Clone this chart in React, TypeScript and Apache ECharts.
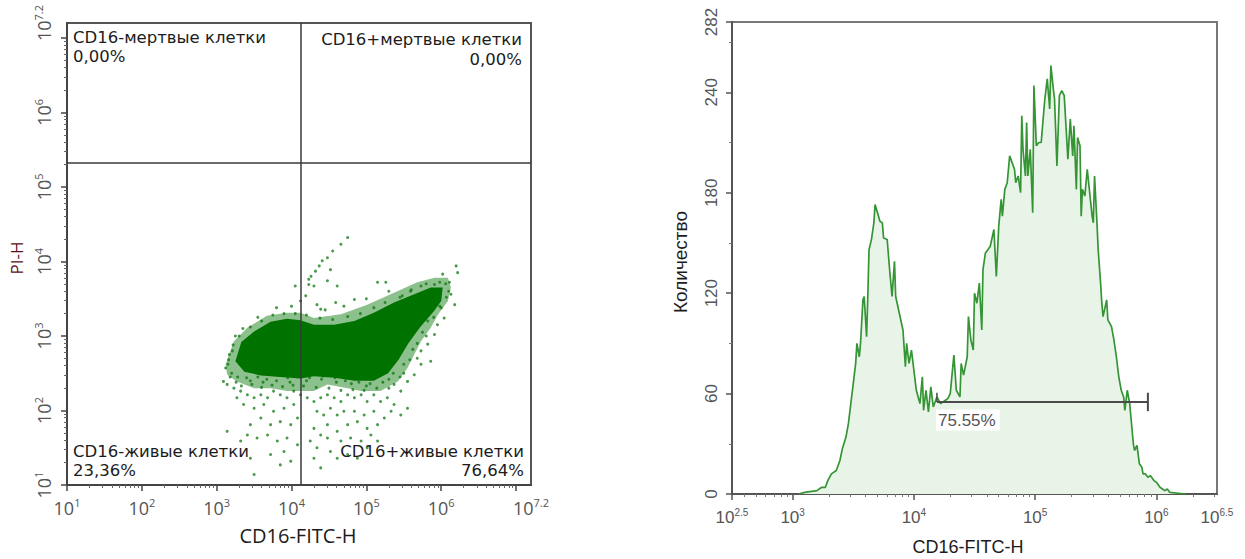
import React, { useEffect, useRef } from "react";
import * as echarts from "echarts";

// ---------- Dot plot (values in log10 units) ----------
const dotLabelTicks = [1, 2, 3, 4, 5, 6, 7.2];
const dotMajorTicks = [1, 2, 3, 4, 5, 6, 7];
const gateX = [4.13];
const gateY = [5.33];
const quadrantNames = ["CD16-мертвые клетки", "CD16+мертвые клетки", "CD16-живые клетки", "CD16+живые клетки"];
const quadrantPercents = ["0,00%", "0,00%", "23,36%", "76,64%"];

const coreOutline = [
  [3.25, 2.66], [3.33, 2.92], [3.5, 3.06], [3.72, 3.19], [3.94, 3.23], [4.12, 3.21], [4.3, 3.15], [4.57, 3.15],
  [4.84, 3.2], [5.1, 3.31], [5.37, 3.45], [5.64, 3.56], [5.86, 3.65], [6.02, 3.65], [6.0, 3.47], [5.9, 3.33],
  [5.72, 3.12], [5.56, 2.9], [5.43, 2.68], [5.29, 2.5], [5.1, 2.4], [4.84, 2.4], [4.57, 2.44], [4.3, 2.46],
  [4.12, 2.43], [3.85, 2.45], [3.59, 2.47], [3.37, 2.52],
];
const haloOutline = [
  [3.12, 2.62], [3.23, 2.93], [3.41, 3.11], [3.67, 3.27], [3.94, 3.31], [4.12, 3.31], [4.3, 3.24], [4.66, 3.29],
  [5.01, 3.42], [5.37, 3.58], [5.68, 3.72], [5.91, 3.78], [6.09, 3.78], [6.13, 3.65], [6.09, 3.47], [5.96, 3.29],
  [5.86, 3.11], [5.73, 2.93], [5.64, 2.75], [5.55, 2.57], [5.42, 2.39], [5.19, 2.26], [4.93, 2.26], [4.75, 2.3],
  [4.48, 2.35], [4.3, 2.26], [4.12, 2.26], [3.94, 2.26], [3.72, 2.3], [3.5, 2.3], [3.27, 2.39], [3.14, 2.48],
];
const sparseDots = [
  [4.75, 4.32], [4.66, 4.23], [4.55, 4.14], [4.48, 4.05], [4.41, 4.01], [4.37, 3.94], [4.32, 3.87], [4.26, 3.8],
  [4.23, 3.76], [4.52, 3.89], [4.61, 3.67], [4.48, 3.74], [4.3, 3.67], [4.23, 3.69], [4.05, 3.67], [5.15, 3.72],
  [5.26, 3.72], [4.84, 3.49], [4.59, 3.45], [4.34, 3.42], [4.19, 3.54], [4.12, 3.47], [4.39, 3.36],
  [6.2, 3.94], [6.22, 3.85], [6.11, 3.72], [6.02, 3.83], [5.91, 3.69], [5.73, 3.67], [5.59, 3.6], [5.48, 3.54],
  [6.13, 3.56], [6.18, 3.42], [6.04, 3.24], [5.95, 3.15], [5.91, 3.02], [5.82, 2.89], [5.73, 2.8], [5.86, 2.66],
  [5.73, 2.62], [5.64, 2.48], [5.55, 2.39], [5.46, 2.26], [5.37, 2.35],
  [5.28, 2.17], [5.37, 2.08], [5.55, 2.03], [5.46, 1.94], [5.33, 1.99], [5.19, 2.12], [5.1, 2.21], [5.01, 2.12],
  [4.93, 2.21], [4.84, 2.17], [4.75, 2.21], [4.66, 2.12], [4.57, 2.17], [4.48, 2.21], [4.39, 2.17], [4.3, 2.12],
  [4.21, 2.17], [4.52, 2.03], [4.43, 1.94], [4.34, 1.99], [4.61, 1.94], [4.7, 1.99], [4.84, 1.99], [4.97, 1.94],
  [5.1, 1.99], [5.24, 1.9], [5.15, 1.81], [5.01, 1.76], [4.88, 1.85], [4.75, 1.81], [4.61, 1.72], [4.48, 1.81],
  [4.39, 1.67], [4.3, 1.76], [4.25, 1.59], [4.34, 1.5], [4.3, 1.36], [4.39, 1.23], [4.48, 1.63], [4.66, 1.59],
  [4.79, 1.63], [4.93, 1.59], [5.06, 1.67], [5.01, 1.5], [4.88, 1.36], [4.75, 1.41], [4.61, 1.36], [4.52, 1.45],
  [5.15, 1.59],
  [4.12, 2.21], [4.03, 2.26], [3.94, 2.17], [3.85, 2.21], [3.76, 2.26], [3.68, 2.17], [3.59, 2.21], [3.5, 2.17],
  [3.41, 2.21], [3.32, 2.26], [3.23, 2.3], [3.14, 2.35], [3.12, 2.57], [3.16, 2.68], [3.21, 2.8], [3.09, 2.39],
  [3.27, 2.17], [3.36, 2.08], [3.5, 2.03], [3.63, 2.08], [3.76, 1.99], [3.9, 2.03], [4.03, 2.08], [4.08, 1.9],
  [3.99, 1.81], [3.85, 1.85], [3.72, 1.81], [3.59, 1.9], [3.45, 1.81], [3.41, 1.67], [3.54, 1.63], [3.68, 1.67],
  [3.81, 1.59], [3.94, 1.63], [4.08, 1.54], [3.32, 1.59], [3.45, 1.36], [3.5, 1.14], [3.85, 1.27], [3.99, 1.32],
  [3.9, 1.45], [3.72, 1.41], [3.14, 1.72],
  [3.2, 2.5], [3.28, 2.45], [3.45, 2.4], [3.62, 2.38], [3.8, 2.4], [3.98, 2.38], [4.2, 2.4], [4.4, 2.42],
  [4.6, 2.38], [4.8, 2.36], [5.0, 2.33], [5.3, 2.3], [5.5, 2.5], [5.68, 2.7], [5.8, 3.0], [5.98, 3.4],
  [6.1, 3.6], [5.3, 3.6], [5.0, 3.5], [4.7, 3.4], [4.45, 3.35], [4.0, 3.4], [3.8, 3.38], [3.55, 3.25],
  [3.35, 3.1], [3.25, 3.0],
  [3.18, 2.45], [3.26, 2.38], [3.33, 2.33], [3.4, 2.44], [3.47, 2.35], [3.55, 2.45], [3.6, 2.31], [3.67, 2.42],
  [3.74, 2.34], [3.82, 2.47], [3.88, 2.32], [3.95, 2.44], [4.02, 2.34], [4.08, 2.45], [4.16, 2.33], [4.24, 2.44],
  [4.33, 2.31], [4.42, 2.46], [4.5, 2.3], [4.58, 2.44], [4.66, 2.27], [4.72, 2.4], [4.82, 2.28], [4.9, 2.38],
  [4.97, 2.27], [5.05, 2.36], [5.14, 2.3], [5.22, 2.38], [5.3, 2.42], [5.36, 2.5], [5.45, 2.45], [5.5, 2.62],
  [5.58, 2.68], [5.62, 2.82], [5.68, 2.9], [5.75, 3.05], [5.82, 3.2], [5.9, 3.25], [6.0, 3.38], [6.07, 3.52],
  [6.06, 3.7], [5.98, 3.72], [5.8, 3.7], [5.6, 3.62], [5.45, 3.52], [5.25, 3.45], [5.1, 3.38], [4.92, 3.3],
  [4.75, 3.26], [4.55, 3.22], [4.38, 3.24], [4.2, 3.28], [4.05, 3.3], [3.9, 3.3], [3.75, 3.28], [3.6, 3.2],
  [3.45, 3.12], [3.3, 3.0], [3.22, 2.88], [3.17, 2.75], [3.15, 2.62],
];

// ---------- Histogram ----------
const histLabelTicks = [2.5, 3, 4, 5, 6, 6.5];
const histMajorTicks = [2.5, 3, 4, 5, 6];
const histCountTicks = [0, 60, 120, 180, 240, 282];
const histCountMinor = [30, 90, 150, 210, 270];
const histogramBins = [
  [3.05, 0], [3.1, 1], [3.2, 2], [3.24, 4], [3.27, 4], [3.29, 8], [3.32, 12], [3.36, 14], [3.39, 20], [3.41, 27],
  [3.44, 34], [3.46, 42], [3.48, 54], [3.5, 66], [3.52, 78], [3.53, 90], [3.55, 82], [3.56, 90], [3.58, 116],
  [3.59, 118], [3.61, 94], [3.62, 118], [3.63, 146], [3.65, 152], [3.67, 162], [3.68, 173], [3.7, 168], [3.72, 163],
  [3.74, 162], [3.75, 153], [3.78, 152], [3.8, 134], [3.82, 118], [3.84, 139], [3.85, 118], [3.88, 108], [3.91, 98],
  [3.93, 76], [3.94, 90], [3.96, 78], [3.98, 86], [4.0, 74], [4.02, 62], [4.05, 54], [4.07, 70], [4.08, 50],
  [4.1, 62], [4.12, 49], [4.14, 64], [4.16, 52], [4.19, 58], [4.22, 54], [4.26, 56], [4.28, 57], [4.3, 60],
  [4.33, 83], [4.35, 62], [4.38, 58], [4.39, 78], [4.41, 71], [4.44, 82], [4.45, 106], [4.47, 92], [4.49, 86],
  [4.5, 120], [4.52, 114], [4.54, 126], [4.56, 98], [4.57, 134], [4.59, 144], [4.61, 146], [4.63, 148], [4.66, 158],
  [4.68, 130], [4.7, 160], [4.72, 176], [4.73, 166], [4.75, 182], [4.77, 186], [4.79, 202], [4.81, 198], [4.83, 194],
  [4.84, 186], [4.86, 190], [4.88, 180], [4.89, 226], [4.9, 206], [4.92, 190], [4.93, 222], [4.94, 190], [4.96, 206],
  [4.98, 168], [4.99, 244], [5.01, 208], [5.03, 210], [5.05, 210], [5.08, 236], [5.1, 248], [5.12, 230], [5.13, 256],
  [5.15, 242], [5.16, 236], [5.18, 196], [5.2, 238], [5.22, 241], [5.24, 238], [5.26, 213], [5.27, 200], [5.29, 224],
  [5.31, 202], [5.32, 220], [5.34, 182], [5.35, 213], [5.37, 208], [5.38, 166], [5.39, 182], [5.41, 178], [5.43, 194],
  [5.45, 180], [5.47, 166], [5.48, 162], [5.49, 190], [5.51, 162], [5.52, 146], [5.54, 126], [5.55, 114], [5.56, 106],
  [5.59, 116], [5.6, 104], [5.63, 100], [5.65, 92], [5.67, 82], [5.69, 70], [5.71, 62], [5.73, 58], [5.74, 50],
  [5.76, 62], [5.78, 54], [5.79, 46], [5.81, 30], [5.82, 26], [5.84, 29], [5.86, 18], [5.88, 16], [5.89, 12],
  [5.91, 12], [5.93, 10], [5.95, 11], [5.98, 8], [6.0, 7], [6.03, 4], [6.05, 3], [6.07, 2], [6.09, 3], [6.11, 1],
  [6.24, 0],
];
const markerRange = [4.19, 5.93];
const markerLevel = [55];
const markerText = "75.55%";

function logMinor(from: number, to: number) {
  const out: number[] = [];
  for (let d = Math.floor(from); d < to; d++) {
    for (let k = 2; k <= 9; k++) {
      const v = d + Math.log10(k);
      if (v > from + 1e-6 && v < to - 1e-6) out.push(v);
    }
  }
  return out;
}

function expText(v: number) {
  return Math.abs(v - Math.round(v)) < 1e-6 ? String(Math.round(v)) : v.toFixed(1);
}

export default function App() {
  const ref = useRef<HTMLDivElement>(null);

  useEffect(() => {
    if (!ref.current) return;
    const chart = echarts.init(ref.current, undefined, { renderer: "svg" });

    const leftFont = "Open Sans";
    const quadFont = "DejaVu Sans";
    const rightFont = "Liberation Sans";
    const richFor = (family: string, size: number, supSize: number, color: string) => ({
      b: { fontFamily: family, fontSize: size, color, lineHeight: 21 },
      s: { fontFamily: family, fontSize: supSize, color, lineHeight: 12, verticalAlign: "top" },
    });
    const powFmt = (v: number) => `{b|10}{s|${expText(v)}}`;

    const majorAxis = (grid: number, min: number, max: number, ticks: number[], labels: number[], fmt: any, rich: any, margin: number, isY: boolean, color: string) => ({
      gridIndex: grid,
      type: "value",
      min,
      max,
      position: isY ? "left" : "bottom",
      axisLine: { show: true, onZero: false, lineStyle: { color, width: 2 } },
      axisTick: { show: true, inside: false, length: 6, customValues: ticks, lineStyle: { color, width: 1.5 } },
      axisLabel: { show: true, customValues: labels, formatter: fmt, rich, margin, rotate: isY ? 90 : 0, hideOverlap: false },
      splitLine: { show: false },
    });
    const minorAxis = (grid: number, min: number, max: number, ticks: number[], isY: boolean, color: string) => ({
      gridIndex: grid,
      type: "value",
      min,
      max,
      position: isY ? "left" : "bottom",
      axisLine: { show: false, onZero: false },
      axisTick: { show: true, inside: false, length: 3, customValues: ticks, lineStyle: { color, width: 1 } },
      axisLabel: { show: false },
      splitLine: { show: false },
    });

    const dotMinor = logMinor(1, 7.2);
    const histMinor = logMinor(2.5, 6.5);
    const leftRich = richFor(leftFont, 18, 11, "#555");
    const rightRich = richFor(rightFont, 17, 10, "#555");

    const polygonSeries = (pts: number[][], fill: string) => ({
      type: "custom",
      xAxisIndex: 0,
      yAxisIndex: 0,
      clip: true,
      silent: true,
      data: [pts[0]],
      renderItem: (_p: any, api: any) => ({
        type: "polygon",
        shape: { points: pts.map((p) => api.coord(p)) },
        style: { fill },
      }),
    });

    const textEl = (text: string, x: number, y: number, font: string, fill: string, align: string, rotation = 0, extra: any = {}) => ({
      type: "text",
      x,
      y,
      z: 100,
      rotation,
      silent: true,
      style: { text, font, fill, align, verticalAlign: "middle", ...extra },
    });

    const qFont = `16.5px "${quadFont}"`;
    const qColor = "#1c1c1c";

    const option: any = {
      animation: false,
      backgroundColor: "#ffffff",
      grid: [
        { left: 67, top: 23, width: 464, height: 462, show: true, borderColor: "#555", borderWidth: 2, backgroundColor: "transparent" },
        { left: 732, top: 22, width: 485, height: 472, show: true, borderColor: "#777", borderWidth: 2, backgroundColor: "transparent" },
      ],
      xAxis: [
        majorAxis(0, 1, 7.2, dotMajorTicks, dotLabelTicks, powFmt, leftRich, 12, false, "#444"),
        minorAxis(0, 1, 7.2, dotMinor, false, "#666"),
        majorAxis(1, 2.5, 6.5, histMajorTicks, histLabelTicks, powFmt, rightRich, 13, false, "#555"),
        minorAxis(1, 2.5, 6.5, histMinor, false, "#777"),
      ],
      yAxis: [
        majorAxis(0, 1, 7.2, dotMajorTicks, dotLabelTicks, powFmt, leftRich, 13, true, "#444"),
        minorAxis(0, 1, 7.2, dotMinor, true, "#666"),
        majorAxis(1, 0, 282, histCountTicks, histCountTicks, (v: number) => `{b|${v}}`, rightRich, 10, true, "#555"),
        minorAxis(1, 0, 282, histCountMinor, true, "#777"),
      ],
      series: [
        polygonSeries(haloOutline, "rgba(0,115,0,0.45)"),
        polygonSeries(coreOutline, "#007200"),
        {
          type: "scatter",
          xAxisIndex: 0,
          yAxisIndex: 0,
          symbolSize: 3,
          silent: true,
          itemStyle: { color: "rgba(5,115,5,0.9)" },
          data: sparseDots,
          markLine: {
            silent: true,
            symbol: ["none", "none"],
            label: { show: false },
            lineStyle: { color: "#3a3a3a", width: 1.5, type: "solid" },
            data: [{ xAxis: gateX[0] }, { yAxis: gateY[0] }],
          },
        },
        {
          type: "line",
          xAxisIndex: 2,
          yAxisIndex: 2,
          showSymbol: false,
          silent: true,
          lineStyle: { color: "#359535", width: 1.7 },
          areaStyle: { color: "#e9f4e9", opacity: 1 },
          data: histogramBins,
        },
        {
          type: "line",
          xAxisIndex: 2,
          yAxisIndex: 2,
          showSymbol: false,
          silent: true,
          lineStyle: { color: "#4a4a4a", width: 2 },
          data: [[markerRange[0], markerLevel[0]], [markerRange[1], markerLevel[0]]],
        },
        {
          type: "line",
          xAxisIndex: 2,
          yAxisIndex: 2,
          showSymbol: false,
          silent: true,
          lineStyle: { color: "#4a4a4a", width: 2 },
          data: [[markerRange[1], markerLevel[0] - 5.5], [markerRange[1], markerLevel[0] + 5.5]],
        },
        {
          type: "line",
          xAxisIndex: 2,
          yAxisIndex: 2,
          showSymbol: false,
          silent: true,
          lineStyle: { color: "#4a4a4a", width: 1.5 },
          data: [[markerRange[0], markerLevel[0]], [markerRange[0], markerLevel[0] + 5.5]],
        },
      ],
      graphic: [
        textEl(quadrantNames[0], 73, 37.5, qFont, qColor, "left"),
        textEl(quadrantPercents[0], 73, 56, qFont, qColor, "left"),
        textEl(quadrantNames[1], 522, 39, qFont, qColor, "right"),
        textEl(quadrantPercents[1], 522, 59, qFont, qColor, "right"),
        textEl(quadrantNames[2], 73, 451.5, qFont, qColor, "left"),
        textEl(quadrantPercents[2], 73, 470.5, qFont, qColor, "left"),
        textEl(quadrantNames[3], 524, 451.5, qFont, qColor, "right"),
        textEl(quadrantPercents[3], 524, 470.5, qFont, qColor, "right"),
        textEl("CD16-FITC-H", 298, 535, `20px "${leftFont}"`, "#1c1c1c", "center"),
        textEl("PI-H", 16, 258, `17px "${leftFont}"`, "#5a1020", "center", Math.PI / 2),
        textEl("CD16-FITC-H", 968, 547, `18px "${rightFont}"`, "#1c1c1c", "center"),
        textEl("Количество", 680, 262, `19px "${rightFont}"`, "#1c1c1c", "center", Math.PI / 2),
        textEl(markerText, 936, 420, `17px "${rightFont}"`, "#555", "left", 0, {
          backgroundColor: "#ffffff",
          padding: [2, 4, 2, 2],
        }),
      ],
    };

    chart.setOption(option);
    return () => chart.dispose();
  }, []);

  return (
    <div
      ref={ref}
      style={{ position: "fixed", left: 0, top: 0, width: 1245, height: 559, background: "#fff" }}
    />
  );
}
